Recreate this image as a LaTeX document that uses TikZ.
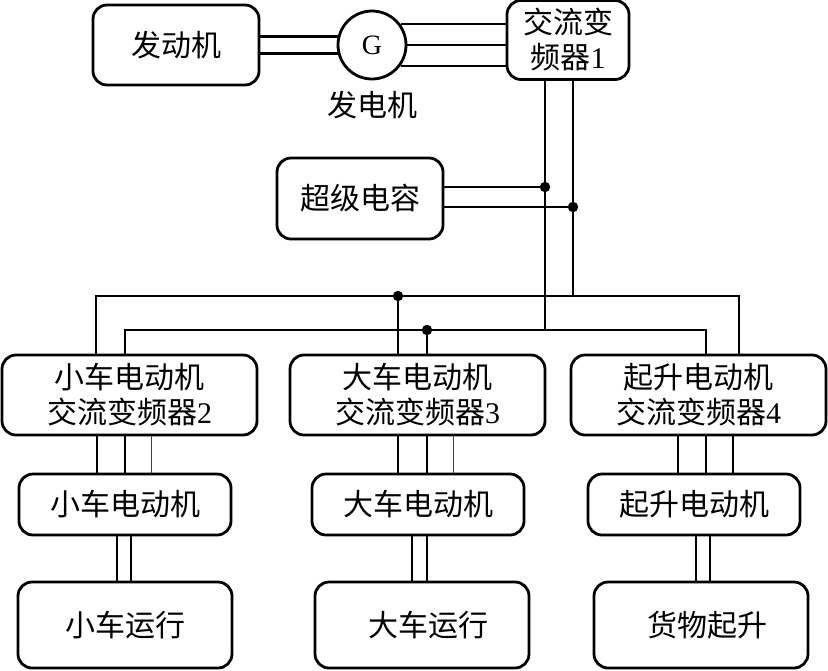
\documentclass[tikz,border=0pt]{standalone}
\usepackage{fontspec}
\setmainfont{Liberation Serif}
\newfontfamily\cjk{Noto Sans CJK SC}
\usetikzlibrary{positioning}

\begin{document}
\begin{tikzpicture}[x=0.5pt,y=-0.5pt,
    cn/.style={font=\cjk\fontsize{15}{17.5}\selectfont},
    blk/.style={rectangle,draw,rounded corners=7pt,line width=1.4pt,align=center,inner sep=0pt,cn},
    wire/.style={line width=0.8pt},
    wirelt/.style={line width=0.45pt,black!75},
    shaft/.style={line width=1.3pt}]

\useasboundingbox (0,0) rectangle (828,670);

% Source side
\node[blk,minimum width=83pt,minimum height=40pt] (engine) at (176,45) {发动机};
\node[circle,draw,line width=1.4pt,minimum size=34pt,inner sep=0pt,font=\fontsize{14}{16}\selectfont] (gen) at (372,45) {G};
\node[cn,below=5pt of gen,inner sep=0pt] (genlbl) {发电机};
\node[blk,minimum width=61pt,minimum height=39.5pt] (conv1) at (568,40) {交流变\\频器{\rmfamily 1}};
\node[blk,minimum width=83pt,minimum height=40.5pt] (cap) at (360,198.5) {超级电容};

% Converters
\node[blk,minimum width=127.5pt,minimum height=40pt] (conv2) at (129.5,395) {小车电动机\\交流变频器{\rmfamily 2}};
\node[blk,minimum width=127.5pt,minimum height=40pt] (conv3) at (417.5,395) {大车电动机\\交流变频器{\rmfamily 3}};
\node[blk,minimum width=127.5pt,minimum height=40pt] (conv4) at (698.5,395) {起升电动机\\交流变频器{\rmfamily 4}};

% Motors
\node[blk,minimum width=106pt,minimum height=30.5pt] (mot1) at (125,504.5) {小车电动机};
\node[blk,minimum width=106pt,minimum height=30.5pt] (mot2) at (418,504.5) {大车电动机};
\node[blk,minimum width=106pt,minimum height=30.5pt] (mot3) at (694,504.5) {起升电动机};

% Loads
\node[blk,minimum width=107pt,minimum height=43pt] (out1) at (125,625) {小车运行};
\node[blk,minimum width=107pt,minimum height=43pt] (out2) at (422,625) {\hspace{6pt}大车运行};
\node[blk,minimum width=107pt,minimum height=43pt] (out3) at (701,625) {\hspace{6pt}货物起升};

% Bus points
\coordinate (ul) at (96,296);
\coordinate (ur) at (739,296);
\coordinate (ll) at (125,330);
\coordinate (lr) at (706,330);
\coordinate (j1) at (545,187);
\coordinate (j2) at (573,207);
\coordinate (j3) at (398,296);
\coordinate (j4) at (427,330);

% Engine - generator - converter 1
\draw[shaft] (engine.east |- gen.166) -- (gen.166);
\draw[shaft] (engine.east |- gen.194) -- (gen.194);
\foreach \a in {36,0,324}
  \draw[line width=0.9pt] (gen.\a) -- (gen.\a -| conv1.west);

% DC link
\draw[wire] (conv1.south -| j1) -- (j1 |- ll);
\draw[wire] (conv1.south -| j2) -- (j2 |- ul);
\draw[wire] (cap.east |- j1) -- (j1);
\draw[wire] (cap.east |- j2) -- (j2);
\draw[wire] (conv2.north -| ul) -- (ul) -- (ur) -- (conv4.north -| ur);
\draw[wire] (conv2.north -| ll) -- (ll) -- (lr) -- (conv4.north -| lr);
\draw[wire] (j3) -- (conv3.north -| j3);
\draw[wire] (j4) -- (conv3.north -| j4);
\foreach \j in {j1,j2,j3,j4}
  \fill (\j) circle[radius=2.6pt];

% Converters to motors
\foreach \c/\m/\x in {conv2/mot1/97, conv2/mot1/125, conv3/mot2/398, conv3/mot2/427, conv4/mot3/678, conv4/mot3/706, conv4/mot3/733}
  \draw[wire] (\c.south -| \x,0) -- (\m.north -| \x,0);
\foreach \c/\m/\x in {conv2/mot1/151, conv3/mot2/453}
  \draw[wirelt] (\c.south -| \x,0) -- (\m.north -| \x,0);

% Shafts
\foreach \m/\o/\x in {mot1/out1/117, mot1/out1/131, mot2/out2/412, mot2/out2/427, mot3/out3/696, mot3/out3/710}
  \draw[shaft] (\m.south -| \x,0) -- (\o.north -| \x,0);

\end{tikzpicture}
\end{document}
